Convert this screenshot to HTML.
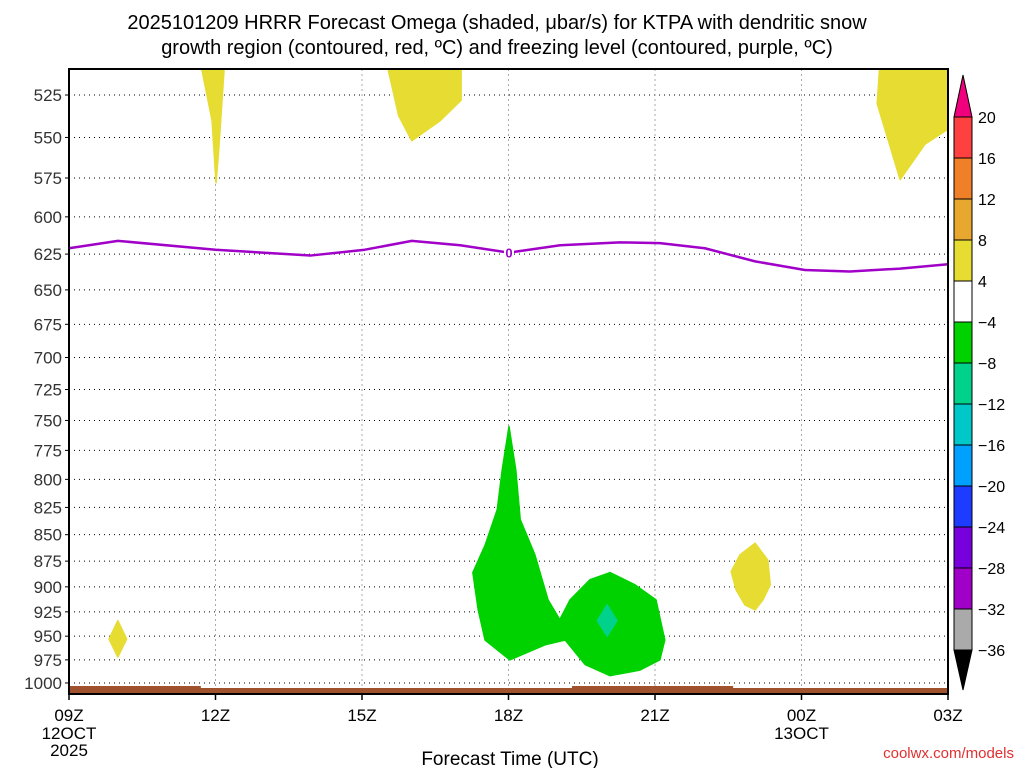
<!DOCTYPE html>
<html><head><meta charset="utf-8"><style>
body{margin:0;background:#fff;width:1024px;height:768px;overflow:hidden}
svg text{font-family:"Liberation Sans",sans-serif}
</style></head><body>
<svg id="chart" width="1024" height="768" xmlns="http://www.w3.org/2000/svg">
<text x="497" y="29" font-size="20" text-anchor="middle">2025101209 HRRR Forecast Omega (shaded, μbar/s) for KTPA with dendritic snow</text>
<text x="497" y="54" font-size="20" text-anchor="middle">growth region (contoured, red, ºC) and freezing level (contoured, purple, ºC)</text>
<g id="grid"></g><g id="fills"></g><g id="lines"></g><g id="axes"></g><g id="cbar"></g>
<text x="510" y="765" font-size="19" text-anchor="middle">Forecast Time (UTC)</text>
<text x="1014" y="758" font-size="15" fill="#e03030" text-anchor="end">coolwx.com/models</text>
</svg>
<script>
const pressureLevels=[525,550,575,600,625,650,675,700,725,750,775,800,825,850,875,900,925,950,975,1000];
const hourTicks=[0,3,6,9,12,15,18];
const hourLabels=["09Z","12Z","15Z","18Z","21Z","00Z","03Z"];
const freezeHours=[0,1,3,4.94,6.06,7.02,8.01,9.01,10.06,11.28,12.1,13.02,14.05,15.07,15.99,17.02,18];
const freezeP=[621,616,622,626,622,616,619,624,619,617,617.5,621,630,636,637,635,632];
const yellowAreas=[
 [[2.68,505],[3.19,505],[3.06,560],[3.01,578],[2.93,540]],
 [[6.49,505],[8.03,505],[8.03,528],[7.6,540],[7.02,552],[6.75,537]],
 [[16.61,505],[18,505],[18,545],[17.53,554],[17.02,576],[16.55,530]],
 [[1.0,934],[1.18,953],[1.0,972],[0.82,953]],
 [[14.05,858],[14.31,874],[14.36,898],[14.21,913],[14.05,923],[13.84,918],[13.66,903],[13.56,885],[13.74,869]]];
const greenArea=[[9.01,755],[9.15,792],[9.24,836],[9.54,869],[9.81,913],[10.05,933],[10.26,913],[10.67,893],[11.08,886],[11.59,898],[12.02,913],[12.2,954],[12.1,975],[11.69,986],[11.08,992],[10.57,980],[10.16,954],[9.75,959],[9.03,975],[8.52,954],[8.38,923],[8.27,886],[8.52,860],[8.77,827],[8.87,792]];
const tealArea=[[11.02,918],[11.22,934],[11.02,950],[10.82,934]];
const cbarLabels=["20","16","12","8","4","−4","−8","−12","−16","−20","−24","−28","−32","−36"];
const cbarColors=["#ff4040","#f08028","#e8a830","#e6dc32","#ffffff","#00d200","#00d28c","#00c8c8","#00a0ff","#1e3cff","#7800dc","#a000c8","#aaaaaa"];

const X0=69,X1=948,Y0=69,Y1=694;
const x=h=>X0+h*(X1-X0)/18;
const y=p=>95+(Math.log(p)-Math.log(525))*912.5;
const NS="http://www.w3.org/2000/svg";
function mk(t,parent,attrs){const e=document.createElementNS(NS,t);for(const k in attrs)e.setAttribute(k,attrs[k]);document.getElementById(parent).appendChild(e);return e;}
const defs=document.createElementNS(NS,"defs");defs.innerHTML='<clipPath id="pc"><rect x="69" y="69" width="879" height="625"/></clipPath>';document.getElementById('chart').appendChild(defs);
document.getElementById('fills').setAttribute('clip-path','url(#pc)');
pressureLevels.forEach(p=>{
 const l=mk('line','grid',{x1:X0,x2:X1,y1:y(p),y2:y(p),stroke:'#000','stroke-width':1,'stroke-dasharray':'1,4'});
 
 
 const t=mk('text','axes',{x:62,y:y(p)+6,'font-size':17,'text-anchor':'end',fill:'#333'});t.textContent=p;
 
 
 mk('line','axes',{x1:X0-4,x2:X0,y1:y(p),y2:y(p),stroke:'#000'});
});
hourTicks.forEach((h,i)=>{
 if(i>0&&i<hourTicks.length-1){const l=mk('line','grid',{x1:x(h),x2:x(h),y1:Y0,y2:Y1,stroke:'#aaa','stroke-dasharray':'2,3'});
 
 }
 mk('line','axes',{x1:x(h),x2:x(h),y1:Y1,y2:Y1+6,stroke:'#000','stroke-width':1.5});
 const t=mk('text','axes',{x:x(h),y:721,'font-size':17,'text-anchor':'middle'});t.textContent=hourLabels[i];
 
 
});
[["12OCT",0,739],["2025",0,756],["13OCT",15,739]].forEach(a=>{const t=mk('text','axes',{x:x(a[1]),y:a[2],'font-size':17,'text-anchor':'middle'});t.textContent=a[0];
 
 });
const poly=(pts,col,name)=>{const e=mk('polygon','fills',{points:pts.map(q=>x(q[0])+','+y(q[1])).join(' '),fill:col,stroke:col,'stroke-width':1.5,'stroke-linejoin':'round'});
 
 };
yellowAreas.forEach((a,i)=>poly(a,'#e6dc32','omega-positive-area-'+i));
poly(greenArea,'#00d200','omega-negative-area');
poly(tealArea,'#00d28c','omega-strong-negative-area');
const g1=mk('polygon','fills',{points:`${X0},686 ${x(2.7)},686 ${x(2.7)},688 ${x(10.3)},688 ${x(10.3)},686 ${x(13.6)},686 ${x(13.6)},688 ${X1},688 ${X1},694 ${X0},694`,fill:'#a0522d'});


const fl=mk('polyline','lines',{points:freezeHours.map((h,i)=>x(h)+','+y(freezeP[i])).join(' '),fill:'none',stroke:'#a000c8','stroke-width':2.5,'stroke-linejoin':'round'});


mk('rect','lines',{x:x(9.01)-5,y:y(624)-8,width:10,height:15,fill:'#fff'});
const fz=mk('text','lines',{x:x(9.01),y:y(624)+5,'font-size':13,'text-anchor':'middle',fill:'#a000c8','font-weight':'bold'});fz.textContent='0';


const fr=mk('rect','axes',{x:X0,y:Y0,width:X1-X0,height:Y1-Y0,fill:'none',stroke:'#000','stroke-width':2});


const CX=954,CW=18,CT=117,CS=41;
const tu=mk('polygon','cbar',{points:`${CX},${CT} ${CX+CW/2},75 ${CX+CW},${CT}`,fill:'#f0007c',stroke:'#000'});


cbarColors.forEach((c,i)=>{const r=mk('rect','cbar',{x:CX,y:CT+i*CS,width:CW,height:CS,fill:c,stroke:'#000'});
 
 });
const yb=CT+cbarColors.length*CS;
const td=mk('polygon','cbar',{points:`${CX},${yb} ${CX+CW/2},690 ${CX+CW},${yb}`,fill:'#000',stroke:'#000'});


cbarLabels.forEach((s,i)=>{const t=mk('text','cbar',{x:978,y:CT+i*CS+6,'font-size':16});t.textContent=s;
 
 });
</script>
</body></html>
